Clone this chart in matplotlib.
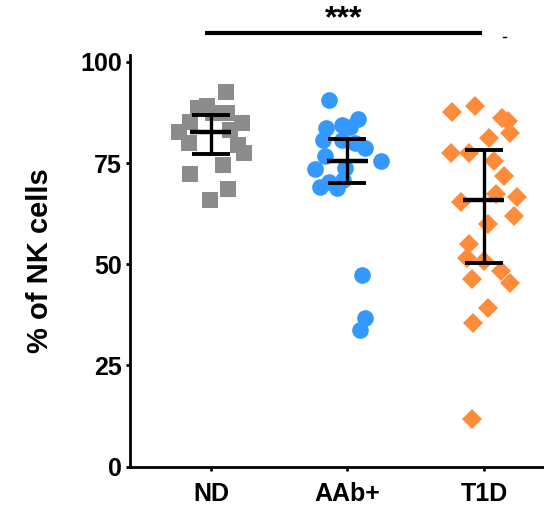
import matplotlib
matplotlib.use("Agg")
import matplotlib.pyplot as plt
import numpy as np

plt.rcParams['font.family'] = ['Liberation Sans', 'DejaVu Sans']
plt.rcParams['font.weight'] = 'bold'

categories = ["ND", "AAb+", "T1D"]

nd_values = [92.5, 88.6, 87.3, 87.3, 85.2, 84.9, 82.8, 83.2, 79.9, 79.5, 77.4, 74.5, 72.3, 68.6, 65.9, 89.0]
nd_jitter = [0.108, -0.093, 0.015, 0.115, -0.154, 0.225, -0.232, 0.139, -0.159, 0.2, 0.244, 0.09, -0.154, 0.127, -0.007, -0.03]

aab_values = [90.6, 85.9, 83.6, 84.4, 84.0, 80.7, 80.7, 78.7, 79.9, 75.5, 76.8, 73.5, 73.7, 69.2, 70.4, 68.8, 70.8, 47.4, 36.7, 33.8]
aab_jitter = [-0.133, 0.079, -0.158, -0.042, 0.018, -0.177, -0.042, 0.128, 0.055, 0.243, -0.165, -0.238, -0.018, -0.2, -0.133, -0.079, -0.031, 0.104, 0.128, 0.092]

t1d_values = [87.7, 89.0, 86.1, 85.3, 82.5, 81.3, 77.6, 77.4, 75.5, 71.7, 66.5, 67.4, 65.3, 62.0, 59.9, 55.0, 51.5, 50.8, 48.4, 46.3, 45.5, 39.1, 35.6, 11.7]
t1d_jitter = [-0.237, -0.066, 0.13, 0.178, 0.19, 0.037, -0.242, -0.11, 0.073, 0.147, 0.239, 0.088, -0.168, 0.222, 0.027, -0.11, -0.127, 0.002, 0.125, -0.086, 0.19, 0.031, -0.078, -0.09]

centers = [82.7, 75.5, 65.9]
lower = [77.2, 70.2, 50.4]
upper = [86.9, 80.9, 78.3]

yticks = [0, 25, 50, 75, 100]
ylabel = "% of NK cells"
sig_label = "***"

colors = ["#8c8c8c", "#3399ff", "#ff8c3b"]
markers = ["s", "o", "D"]
sizes = [11, 12, 10.5]

fig = plt.figure(figsize=(5.44, 5.07), dpi=100)
ax = fig.add_axes([0.239, 0.0795, 0.761, 0.812])

groups = [(nd_values, nd_jitter), (aab_values, aab_jitter), (t1d_values, t1d_jitter)]
for i, (vals, jit) in enumerate(groups):
    xs = (i + 1) + np.array(jit)
    ax.plot(xs, vals, linestyle='none', marker=markers[i], markersize=sizes[i],
            color=colors[i], markeredgewidth=0, zorder=2)

xpos = np.arange(1, len(categories) + 1)
c = np.array(centers)
ax.errorbar(xpos, c, yerr=[c - np.array(lower), np.array(upper) - c], fmt='none',
            ecolor='black', elinewidth=2.4, capsize=13.5, capthick=2.8, zorder=3)
ax.hlines(c, xpos - 0.15, xpos + 0.15, color='black', linewidth=3.2, zorder=3)

ax.set_xlim(0.407, 3.44)
ax.set_ylim(0, 101.7)
ax.set_xticks(xpos)
ax.set_xticklabels(categories, fontsize=18, fontweight='bold')
ax.set_yticks(yticks)
ax.set_yticklabels([str(t) for t in yticks], fontsize=18, fontweight='bold')
ax.set_ylabel(ylabel, fontsize=21, fontweight='bold', labelpad=19)

for s in ['top', 'right']:
    ax.spines[s].set_visible(False)
for s in ['left', 'bottom']:
    ax.spines[s].set_linewidth(2.0)
ax.tick_params(axis='both', length=3, width=2.0, pad=3)
ax.tick_params(axis='x', pad=8)

# significance bracket
ax.plot([0.96, 2.985], [107.2, 107.2], color='black', linewidth=3, clip_on=False,
        solid_capstyle='butt')
ax.text(1.97, 110.5, sig_label, ha='center', va='center', fontsize=23, fontweight='bold')
ax.plot([3.14, 3.16], [106.1, 106.1], color='black', linewidth=1, clip_on=False)

fig.savefig("out.png", dpi=100)
